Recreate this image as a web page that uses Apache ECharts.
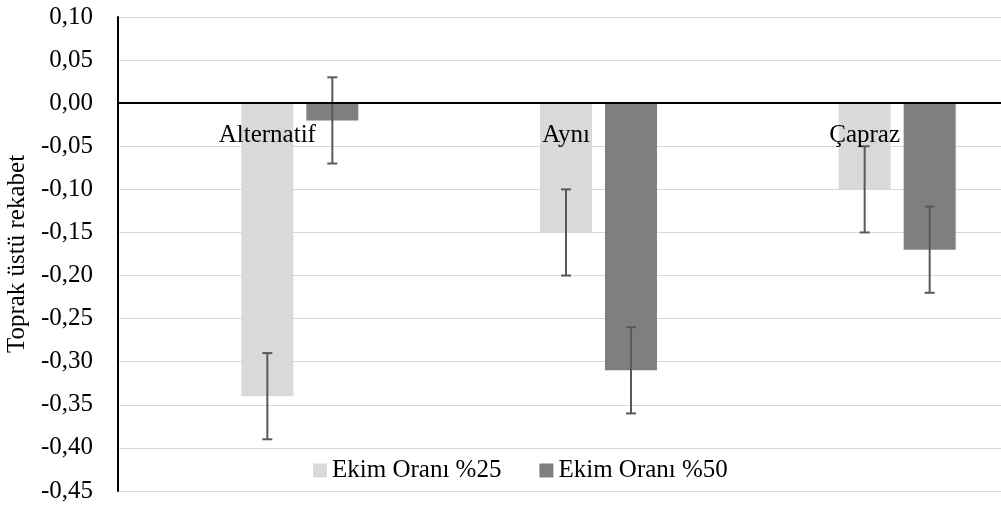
<!DOCTYPE html>
<html>
<head>
<meta charset="utf-8">
<script src="https://cdn.jsdelivr.net/npm/echarts@6/dist/echarts.min.js"></script>
<style>
  html, body { margin: 0; padding: 0; background: #fff; }
  #main { width: 1001px; height: 510px; }
</style>
</head>
<body>
<div id="main"></div>
<script>
var categories = ['Alternatif', 'Aynı', 'Çapraz']
var rate25 = [-0.34, -0.15, -0.10]
var rate50 = [-0.02, -0.31, -0.17]
var err25 = [0.05, 0.05, 0.05]
var err50 = [0.05, 0.05, 0.05]
var seriesNames = ['Ekim Oranı %25', 'Ekim Oranı %50']

var chartDom = document.getElementById('main')
var myChart = echarts.init(chartDom)
var option

var BAR_W = 52
var BAR_GAP = 13
var font = '"Liberation Serif", "Times New Roman", serif'
var FS = 25
var Y_MIN = -0.45
var Y_MAX = 0.1
var GRID_TOP = 17
var GRID_H = 474

function fmt(v) {
  if (Math.abs(v) < 1e-9) v = 0
  return v.toFixed(2).replace('.', ',')
}

// error bars, slot is the bar's position inside the category (0 = empty slot)
function errorSeries(values, errs, slot) {
  return {
    type: 'custom',
    z: 4,
    silent: true,
    data: values.map(function (v, i) { return [i, v, errs[i]] }),
    renderItem: function (params, api) {
      var shift = (slot - 1) * (BAR_W + BAR_GAP)
      var top = api.coord([api.value(0), api.value(1) + api.value(2)])
      var bot = api.coord([api.value(0), api.value(1) - api.value(2)])
      var x = top[0] + shift
      var style = { stroke: '#595959', lineWidth: 2 }
      return {
        type: 'group',
        children: [
          { type: 'line', shape: { x1: x, y1: top[1], x2: x, y2: bot[1] }, style: style },
          { type: 'line', shape: { x1: x - 5, y1: top[1], x2: x + 5, y2: top[1] }, style: style },
          { type: 'line', shape: { x1: x - 5, y1: bot[1], x2: x + 5, y2: bot[1] }, style: style }
        ]
      }
    }
  }
}

option = {
  animation: false,
  textStyle: { fontFamily: font },
  grid: {
    left: 118,
    top: GRID_TOP,
    width: 896,
    height: GRID_H,
    containLabel: false,
    outerBoundsMode: 'none'
  },
  legend: {
    data: seriesNames,
    top: 453,
    left: 308,
    icon: 'rect',
    itemWidth: 14,
    itemHeight: 14,
    itemGap: 38,
    itemTextGap: 6,
    textStyle: { fontFamily: font, fontSize: FS, color: '#000' }
  },
  xAxis: {
    type: 'category',
    data: categories,
    position: 'top',
    // category axis sits on the zero line, labels below it
    offset: -(Y_MAX / (Y_MAX - Y_MIN)) * GRID_H,
    z: 5,
    axisLine: { onZero: false, lineStyle: { color: '#000', width: 2 } },
    axisTick: { show: false },
    axisLabel: {
      inside: true,
      margin: 20,
      verticalAlign: 'top',
      fontFamily: font,
      fontSize: FS,
      color: '#000'
    }
  },
  yAxis: {
    type: 'value',
    min: Y_MIN,
    max: Y_MAX,
    interval: 0.05,
    name: 'Toprak üstü rekabet',
    nameLocation: 'middle',
    nameGap: 84,
    nameTextStyle: { fontFamily: font, fontSize: FS, color: '#000' },
    axisLine: { show: true, lineStyle: { color: '#000', width: 2 } },
    axisTick: { show: false },
    axisLabel: {
      margin: 25,
      fontFamily: font,
      fontSize: FS,
      color: '#000',
      formatter: fmt
    },
    splitLine: { lineStyle: { color: '#d9d9d9', width: 1 } }
  },
  series: [
    {
      // empty slot, keeps the two real bars to the right of the label
      name: 'bos',
      type: 'bar',
      barWidth: BAR_W,
      barGap: '25%',
      data: ['-', '-', '-']
    },
    {
      name: seriesNames[0],
      type: 'bar',
      barWidth: BAR_W,
      barGap: '25%',
      itemStyle: { color: '#d9d9d9' },
      data: rate25
    },
    {
      name: seriesNames[1],
      type: 'bar',
      barWidth: BAR_W,
      barGap: '25%',
      itemStyle: { color: '#7f7f7f' },
      data: rate50
    },
    errorSeries(rate25, err25, 1),
    errorSeries(rate50, err50, 2)
  ]
}

option && myChart.setOption(option)
</script>
</body>
</html>
